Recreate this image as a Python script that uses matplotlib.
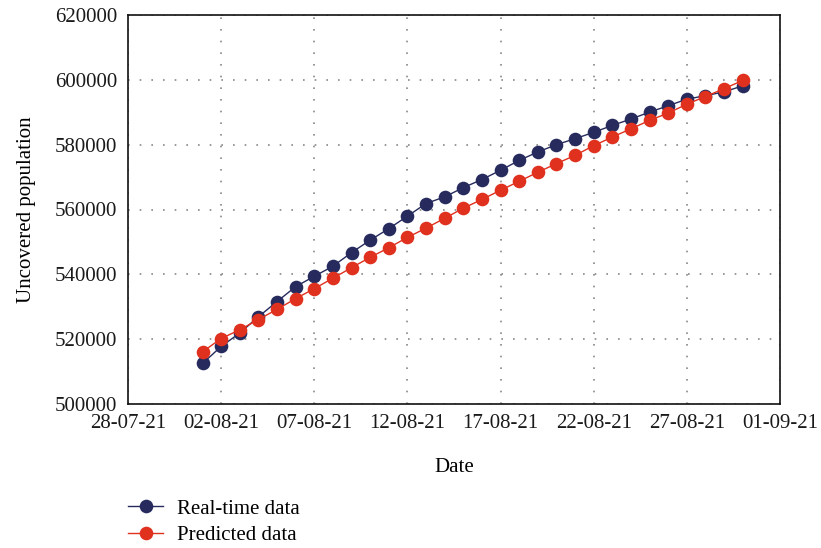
import pandas as pd
import matplotlib
matplotlib.use("Agg")
import matplotlib.pyplot as plt
import matplotlib.dates as mdates

plt.rcParams['font.family'] = ['Liberation Serif', 'DejaVu Serif']

# Daily observations, 01-08-21 .. 30-08-21
dates = pd.date_range("2021-08-01", "2021-08-30", freq="D")

real_time = [512500, 517750, 521900, 526900, 531600, 536200, 539400, 542500,
             546700, 550550, 554100, 557950, 561850, 563900, 566750, 569250,
             572100, 575150, 577750, 580000, 581850, 583800, 585950, 587900,
             590050, 592000, 594050, 595100, 596300, 598150]

predicted = [516100, 520200, 522900, 526050, 529200, 532500, 535600, 538800,
             542050, 545250, 548200, 551400, 554250, 557300, 560400, 563100,
             565950, 568700, 571500, 574150, 576700, 579700, 582350, 584900,
             587500, 589750, 592500, 594850, 597300, 599800]

y_ticks = [500000, 520000, 540000, 560000, 580000, 600000, 620000]

navy = '#262a5c'
red = '#e0301e'
fs = 15

fig = plt.figure(figsize=(8.21, 5.48), dpi=100)
ax = fig.add_axes([128 / 821, 1 - 404 / 548, (780 - 128) / 821, (404 - 15) / 548])

ax.plot(dates, real_time, color=navy, lw=1.0, marker='o', ms=9.8,
        markeredgewidth=0, label='Real-time data', zorder=3)
ax.plot(dates, predicted, color=red, lw=1.0, marker='o', ms=9.8,
        markeredgewidth=0, label='Predicted data', zorder=4)

ax.set_xlim(pd.Timestamp("2021-07-28"), pd.Timestamp("2021-09-01"))
ax.set_xticks(pd.date_range("2021-07-28", "2021-09-01", freq="5D"))
ax.xaxis.set_major_formatter(mdates.DateFormatter('%d-%m-%y'))

ax.set_ylim(500000, 620000)
ax.set_yticks(y_ticks)
ax.set_yticklabels([str(v) for v in y_ticks])

ax.tick_params(length=0, labelsize=fs, colors='#1a1a1a')
ax.tick_params(axis='y', pad=8)
ax.tick_params(axis='x', pad=7)
ax.grid(True, color='#888888', linestyle=(0, (1, 6)), linewidth=1.2)
ax.set_axisbelow(True)
for s in ax.spines.values():
    s.set_linewidth(1.2)
    s.set_color('#111111')

ax.set_xlabel('Date', fontsize=fs, labelpad=18.5)
ax.set_ylabel('Uncovered population', fontsize=fs, labelpad=13.5)

fig.legend(loc='upper left', bbox_to_anchor=(128 / 821, 1 - 499 / 548),
           frameon=False, fontsize=fs, handlelength=1.7, handletextpad=0.67,
           labelspacing=0.32, borderpad=0, borderaxespad=0)

fig.savefig('out.png', dpi=100)
